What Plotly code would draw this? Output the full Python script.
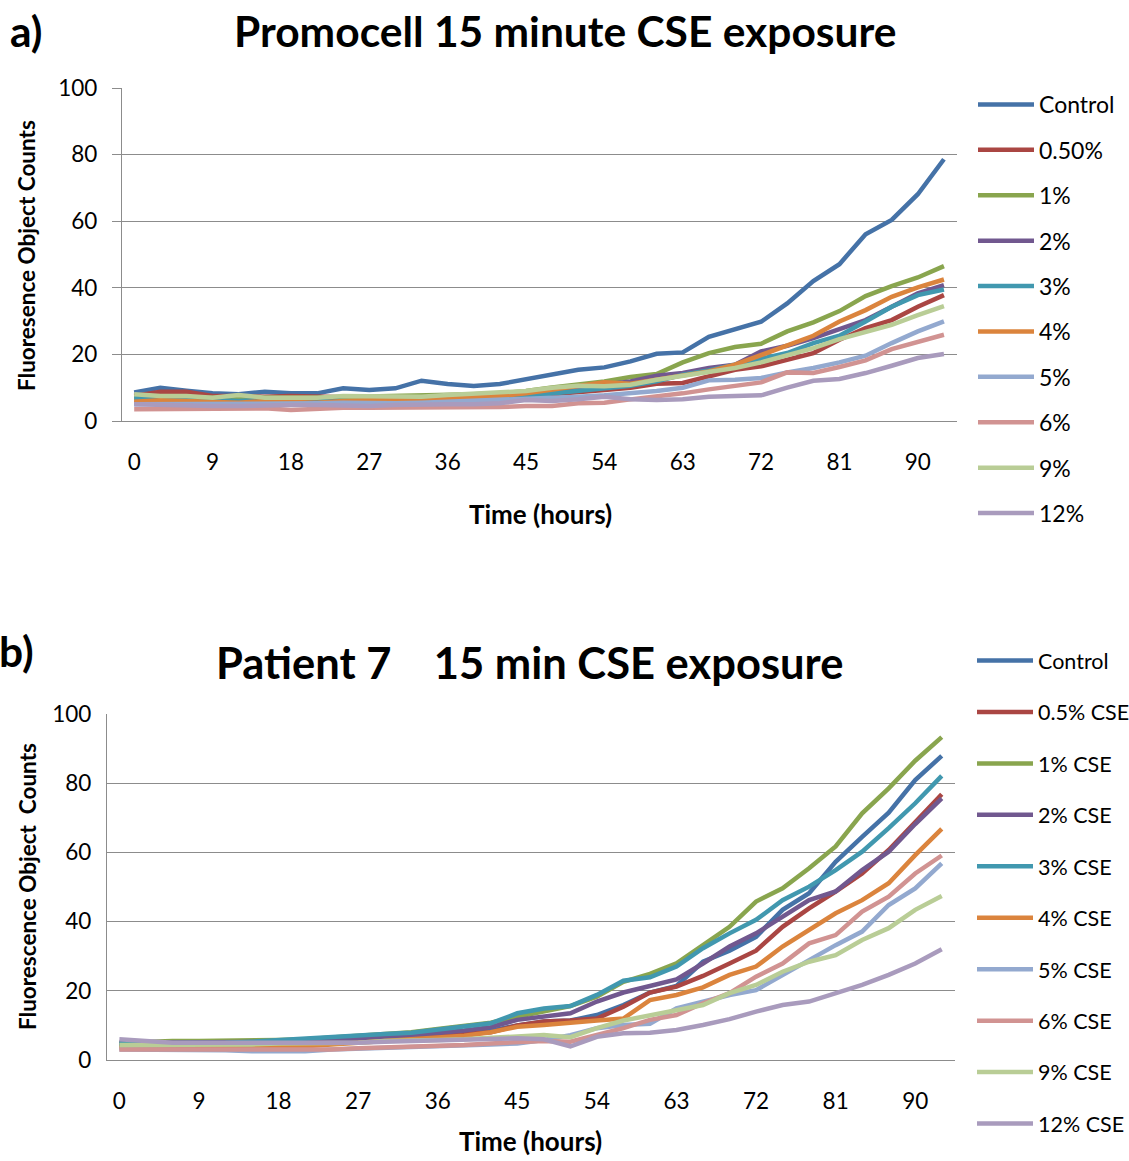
import plotly.graph_objects as go

# Time points (hours), sampled every 3 h
hours = list(range(0, 96, 3))
x_ticks = [0, 9, 18, 27, 36, 45, 54, 63, 72, 81, 90]

colors = ["#4572A7", "#AA4643", "#89A54E", "#71588F", "#4198AF",
          "#DB843D", "#93A9CF", "#D19392", "#B9CD96", "#A99BBD"]

# Panel a) Promocell, 15 minute CSE exposure
names_a = ["Control", "0.50%", "1%", "2%", "3%", "4%", "5%", "6%", "9%", "12%"]
control_a = [8.6, 10.0, 9.1, 8.3, 8.0, 8.8, 8.3, 8.3, 9.8, 9.3, 9.8, 12.1, 11.1, 10.5, 11.1, 12.6,
             14.1, 15.4, 16.1, 17.9, 20.2, 20.6, 25.3, 27.5, 29.8, 35.3, 42.0, 47.1, 56.1, 60.4, 68.1, 78.6]
cse05_a = [7.5, 8.8, 8.8, 7.5, 7.5, 7.3, 7.5, 7.3, 7.0, 7.0, 7.0, 7.0, 7.0, 7.2, 7.3, 7.3,
           8.0, 8.5, 9.3, 10.0, 11.2, 11.4, 13.4, 15.4, 16.4, 18.4, 20.4, 24.4, 27.9, 30.3, 34.3, 37.8]
cse1_a = [7.0, 7.0, 7.0, 6.8, 6.8, 7.0, 7.0, 7.0, 7.2, 7.3, 7.5, 7.5, 7.8, 8.0, 8.3, 9.0,
          10.1, 10.9, 11.9, 13.2, 14.1, 17.6, 20.4, 22.2, 23.2, 26.9, 29.6, 33.0, 37.5, 40.5, 43.1, 46.5]
cse2_a = [5.5, 5.5, 5.5, 5.3, 5.3, 5.5, 5.5, 5.5, 5.8, 6.0, 6.0, 6.2, 6.5, 6.8, 7.2, 8.0,
          9.0, 10.0, 10.9, 11.9, 13.6, 14.4, 15.9, 16.9, 20.9, 22.6, 24.9, 27.6, 30.3, 34.3, 38.3, 40.8]
cse3_a = [6.8, 6.5, 6.5, 6.3, 6.0, 6.3, 6.5, 6.3, 6.0, 5.8, 6.0, 6.2, 6.5, 6.8, 7.0, 7.5,
          8.3, 9.0, 9.7, 10.6, 11.9, 13.9, 15.2, 16.9, 18.4, 20.4, 23.4, 25.6, 29.9, 34.3, 37.8, 39.5]
cse4_a = [5.8, 6.2, 6.0, 5.8, 5.5, 6.0, 5.8, 5.5, 6.0, 6.3, 6.5, 6.5, 6.8, 7.2, 7.5, 8.3,
          9.5, 10.4, 11.6, 11.2, 12.4, 13.4, 14.9, 16.9, 19.9, 22.8, 25.6, 29.9, 33.3, 37.3, 40.1, 42.5]
cse5_a = [5.0, 5.0, 5.0, 5.0, 5.0, 5.0, 5.3, 5.3, 5.5, 5.3, 5.3, 5.5, 5.8, 6.0, 6.3, 6.5,
          6.7, 7.3, 7.7, 8.3, 9.0, 10.0, 12.2, 12.4, 12.9, 14.6, 15.9, 17.6, 19.6, 23.4, 26.9, 29.9]
cse6_a = [3.5, 3.5, 3.5, 3.5, 3.5, 3.8, 3.3, 3.8, 4.0, 4.0, 4.0, 4.0, 4.0, 4.0, 4.2, 4.5,
          4.5, 5.3, 5.5, 6.5, 7.3, 8.3, 9.5, 10.4, 11.6, 14.6, 14.4, 16.2, 18.2, 21.6, 23.6, 25.9]
cse9_a = [8.0, 7.5, 7.5, 7.0, 7.8, 7.0, 7.0, 7.0, 7.5, 7.5, 7.3, 7.3, 7.8, 8.3, 8.5, 9.0,
          10.0, 10.6, 10.4, 10.9, 12.4, 13.6, 14.6, 15.9, 17.6, 19.9, 21.9, 24.6, 26.9, 28.9, 31.8, 34.5]
cse12_a = [5.0, 4.8, 4.5, 4.5, 4.5, 4.8, 4.8, 4.8, 4.5, 4.5, 4.8, 5.0, 5.0, 5.0, 5.3, 6.3,
           6.0, 6.5, 7.3, 6.5, 6.3, 6.5, 7.3, 7.5, 7.7, 10.0, 12.1, 12.6, 14.4, 16.6, 18.9, 20.1]
series_a = [control_a, cse05_a, cse1_a, cse2_a, cse3_a, cse4_a, cse5_a, cse6_a, cse9_a, cse12_a]

# Panel b) Patient 7, 15 min CSE exposure
names_b = ["Control", "0.5% CSE", "1% CSE", "2% CSE", "3% CSE", "4% CSE",
           "5% CSE", "6% CSE", "9% CSE", "12% CSE"]
control_b = [4.5, 4.5, 4.5, 4.5, 4.5, 4.5, 4.5, 5.0, 5.5, 5.8, 6.0, 6.5, 7.0, 7.5, 8.5, 10.0,
             11.1, 11.4, 13.0, 15.9, 19.5, 21.4, 28.4, 31.6, 35.6, 43.4, 48.2, 57.3, 64.5, 71.5, 80.9, 87.9]
cse05_b = [4.0, 4.0, 4.0, 4.0, 4.0, 4.0, 4.2, 4.5, 5.0, 5.5, 6.0, 6.5, 7.0, 7.5, 8.0, 10.0,
           11.1, 11.4, 12.0, 15.4, 19.5, 21.2, 24.3, 27.9, 31.6, 38.5, 43.8, 48.7, 53.9, 60.7, 68.9, 76.8]
cse1_b = [5.0, 5.3, 5.5, 5.5, 5.5, 5.5, 5.8, 6.0, 6.5, 7.0, 7.5, 8.0, 9.0, 10.0, 10.8, 12.5,
          14.0, 15.6, 18.3, 22.6, 24.9, 27.9, 33.2, 38.5, 45.8, 49.6, 55.4, 61.7, 71.3, 78.5, 86.5, 93.3]
cse2_b = [5.0, 5.0, 5.0, 5.0, 5.0, 5.0, 5.0, 5.3, 5.5, 6.0, 6.5, 7.0, 7.8, 8.5, 9.5, 11.6,
          12.7, 13.5, 16.9, 19.5, 21.4, 23.3, 27.9, 32.8, 36.6, 41.4, 46.2, 48.7, 54.9, 60.2, 68.2, 75.6]
cse3_b = [4.8, 4.8, 4.8, 5.0, 5.0, 5.3, 5.8, 6.0, 6.7, 7.2, 7.5, 7.9, 8.9, 9.8, 10.6, 13.5,
          14.9, 15.6, 18.8, 22.9, 23.9, 27.0, 32.3, 36.6, 40.5, 46.2, 50.1, 54.9, 60.2, 67.0, 74.2, 82.1]
cse4_b = [3.5, 3.5, 3.5, 3.5, 3.5, 3.5, 3.8, 4.0, 4.5, 5.0, 5.5, 6.0, 6.5, 7.0, 8.0, 9.6,
          10.1, 10.6, 11.4, 12.0, 17.3, 18.8, 21.0, 24.6, 27.0, 32.8, 37.6, 42.4, 46.2, 51.1, 59.2, 66.8]
cse5_b = [3.0, 3.0, 3.0, 3.0, 2.8, 2.5, 2.5, 2.5, 3.0, 3.2, 3.5, 3.8, 4.0, 4.3, 4.5, 4.8,
          5.8, 7.2, 9.2, 10.1, 10.5, 14.9, 16.9, 18.8, 20.2, 24.6, 28.9, 33.2, 37.1, 44.8, 49.6, 56.8]
cse6_b = [3.0, 3.0, 3.0, 3.0, 3.0, 3.0, 3.0, 3.0, 3.0, 3.4, 3.6, 4.0, 4.2, 4.3, 4.8, 5.3,
          5.5, 5.3, 7.2, 9.2, 11.6, 13.0, 16.4, 19.3, 24.1, 27.9, 33.7, 36.1, 42.9, 47.2, 53.9, 59.1]
cse9_b = [4.3, 4.3, 4.5, 4.5, 4.5, 4.5, 4.8, 4.8, 5.0, 5.0, 5.5, 5.5, 5.8, 6.0, 6.5, 6.9,
          7.2, 6.6, 9.2, 11.4, 13.0, 14.5, 15.9, 19.3, 21.7, 25.5, 28.4, 30.3, 34.7, 38.1, 43.4, 47.4]
cse12_b = [6.0, 5.5, 5.0, 5.0, 5.0, 4.8, 4.8, 4.8, 5.0, 5.0, 5.3, 5.5, 5.8, 5.8, 6.0, 6.3,
           6.0, 3.9, 6.7, 7.7, 7.9, 8.7, 10.1, 11.8, 14.0, 15.9, 16.9, 19.3, 21.7, 24.6, 27.9, 32.0]
series_b = [control_b, cse05_b, cse1_b, cse2_b, cse3_b, cse4_b, cse5_b, cse6_b, cse9_b, cse12_b]

W, H = 1129, 1161
FONT = "Lato"
GRID = "#8C8C8C"


def px(x):
    return x / W


def py(y):
    return 1 - y / H


fig = go.Figure()

for i, (name, vals) in enumerate(zip(names_a, series_a)):
    fig.add_trace(go.Scatter(
        x=hours, y=vals, name=name, mode="lines", xaxis="x", yaxis="y",
        line=dict(color=colors[i], width=4.5), legend="legend",
        legendgroup="a%d" % i))

for i, (name, vals) in enumerate(zip(names_b, series_b)):
    fig.add_trace(go.Scatter(
        x=hours, y=vals, name=name, mode="lines", xaxis="x2", yaxis="y2",
        line=dict(color=colors[i], width=4.5), legend="legend2",
        legendgroup="b%d" % i))

tick_font = dict(family=FONT, size=22.5, color="#000")

xaxis_common = dict(
    range=[-1.4, 94.5], tickmode="array", tickvals=x_ticks,
    ticktext=[str(v) for v in x_ticks], showgrid=False, zeroline=False,
    showline=True, linecolor=GRID, linewidth=1.3, ticks="",
    ticklabelstandoff=21, tickfont=tick_font, fixedrange=True,
    automargin=False)

yaxis_common = dict(
    range=[0, 100], tickvals=[0, 20, 40, 60, 80, 100], showgrid=True,
    gridcolor=GRID, gridwidth=1.3, zeroline=False, showline=True,
    linecolor=GRID, linewidth=1.3, tickfont=tick_font, automargin=False,
    fixedrange=True)

legend_common = dict(
    xanchor="left", yanchor="top", itemwidth=56,
    bgcolor="rgba(0,0,0,0)", traceorder="grouped")

fig.update_layout(
    width=W, height=H,
    margin=dict(l=0, r=0, t=0, b=0, autoexpand=False),
    paper_bgcolor="white", plot_bgcolor="white",
    font=dict(family=FONT, color="#000"),
    xaxis=dict(domain=[px(122), px(957)], anchor="y", **xaxis_common),
    yaxis=dict(domain=[py(421), py(88)], anchor="x", ticks="outside",
               ticklen=9, tickcolor=GRID, tickwidth=1.3,
               ticklabelstandoff=10, **yaxis_common),
    xaxis2=dict(domain=[px(107), px(955)], anchor="y2", **xaxis_common),
    yaxis2=dict(domain=[py(1060), py(714)], anchor="x2", ticks="",
                ticklabelstandoff=10, **yaxis_common),
    legend=dict(x=px(973), y=py(83), tracegroupgap=12.5,
                font=dict(family=FONT, size=23, color="#000"), **legend_common),
    legend2=dict(x=px(972), y=py(640), tracegroupgap=20.5,
                 font=dict(family=FONT, size=21.5, color="#000"), **legend_common),
    showlegend=True,
)

title_font = dict(family=FONT, size=42.5, color="#000")
title_font_b = dict(family=FONT, size=43.5, color="#000")
ylab_font = dict(family=FONT, size=22.5, color="#000")
xlab_font = dict(family=FONT, size=26, color="#000")

annotations = [
    dict(text="<b>a)</b>", x=px(8), y=py(31), xanchor="left", yanchor="middle",
         font=title_font),
    dict(text="<b>Promocell 15 minute CSE exposure</b>", x=px(565), y=py(30),
         xanchor="center", yanchor="middle", font=title_font),
    dict(text="<b>Fluoresence Object Counts</b>", x=px(27), y=py(256),
         xanchor="center", yanchor="middle", textangle=-90, font=ylab_font),
    dict(text="<b>Time (hours)</b>", x=px(540), y=py(514), xanchor="center",
         yanchor="middle", font=xlab_font),
    dict(text="<b>b)</b>", x=px(36), y=py(650), xanchor="right", yanchor="middle",
         font=title_font),
    dict(text="<b>Patient 7\u00a0\u00a0\u00a0\u00a015 min CSE exposure</b>", x=px(529),
         y=py(662), xanchor="center", yanchor="middle", font=title_font_b),
    dict(text="<b>Fluorescence Object  Counts</b>", x=px(27), y=py(887),
         xanchor="center", yanchor="middle", textangle=-90, font=ylab_font),
    dict(text="<b>Time (hours)</b>", x=px(530), y=py(1159), xanchor="center",
         yanchor="bottom", font=xlab_font),
]
for a in annotations:
    a.update(xref="paper", yref="paper", showarrow=False)
fig.update_layout(annotations=annotations)

fig.write_html("out.html")
